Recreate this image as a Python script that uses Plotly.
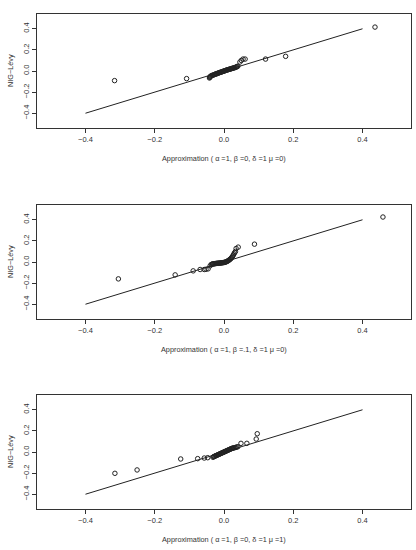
import plotly.graph_objects as go

# ---------------- data ----------------
ref_x = [-0.4, 0.4]
ref_y = [-0.4, 0.4]

p1_x = [-0.316, -0.108, -0.042, -0.041, -0.040, -0.039, -0.037, -0.035, -0.033, -0.030, -0.028,
        -0.026, -0.024, -0.022, -0.020, -0.018, -0.016, -0.014, -0.012, -0.010, -0.008, -0.006,
        -0.004, -0.002, 0.000, 0.002, 0.004, 0.006, 0.008, 0.010, 0.012, 0.014, 0.016, 0.018,
        0.020, 0.022, 0.024, 0.026, 0.028, 0.030, 0.032, 0.034, 0.036, 0.038, 0.040,
        0.046, 0.050, 0.055, 0.061, 0.120, 0.178, 0.436]
p1_y = [-0.091, -0.072, -0.066, -0.060, -0.055, -0.050, -0.046, -0.043, -0.040, -0.037, -0.034,
        -0.031, -0.029, -0.027, -0.024, -0.021, -0.019, -0.017, -0.014, -0.012, -0.010, -0.007,
        -0.005, -0.003, 0.000, 0.002, 0.004, 0.007, 0.009, 0.011, 0.013, 0.015, 0.017, 0.019,
        0.021, 0.023, 0.025, 0.027, 0.029, 0.031, 0.033, 0.036, 0.039, 0.042, 0.046,
        0.085, 0.100, 0.113, 0.113, 0.113, 0.139, 0.416]

p2_x = [-0.305, -0.141, -0.089, -0.069, -0.057, -0.052, -0.046, -0.040, -0.037,
        -0.035, -0.033, -0.031, -0.029, -0.027, -0.025, -0.023, -0.021, -0.019, -0.017, -0.015,
        -0.013, -0.011, -0.009, -0.007, -0.005, -0.003, -0.001, 0.001, 0.003, 0.005, 0.007,
        0.009, 0.011, 0.013, 0.015, 0.017, 0.019, 0.021, 0.023, 0.025, 0.027, 0.029, 0.031,
        0.033, 0.035, 0.041, 0.088, 0.459]
p2_y = [-0.160, -0.122, -0.084, -0.071, -0.071, -0.069, -0.065, -0.036, -0.024,
        -0.021, -0.019, -0.018, -0.017, -0.016, -0.015, -0.014, -0.013, -0.012, -0.012, -0.011,
        -0.010, -0.010, -0.009, -0.008, -0.007, -0.006, -0.005, -0.004, -0.002, 0.000, 0.003,
        0.006, 0.010, 0.014, 0.019, 0.024, 0.030, 0.037, 0.045, 0.055, 0.066, 0.078, 0.090,
        0.100, 0.128, 0.141, 0.169, 0.426]

p3_x = [-0.315, -0.251, -0.125, -0.076, -0.057, -0.047, -0.032,
        -0.030, -0.028, -0.026, -0.024, -0.022, -0.020, -0.018, -0.016, -0.014, -0.012, -0.010,
        -0.008, -0.006, -0.004, -0.002, 0.000, 0.002, 0.004, 0.006, 0.008, 0.010, 0.012, 0.014,
        0.016, 0.018, 0.020, 0.022, 0.024, 0.026, 0.028, 0.031, 0.034, 0.037, 0.040,
        0.049, 0.066, 0.093, 0.096]
p3_y = [-0.202, -0.170, -0.066, -0.063, -0.057, -0.054, -0.050,
        -0.045, -0.042, -0.039, -0.036, -0.033, -0.030, -0.027, -0.024, -0.021, -0.018, -0.015,
        -0.012, -0.009, -0.006, -0.003, 0.000, 0.003, 0.006, 0.009, 0.012, 0.015, 0.018, 0.021,
        0.024, 0.027, 0.030, 0.033, 0.035, 0.037, 0.039, 0.041, 0.044, 0.047, 0.050,
        0.082, 0.082, 0.123, 0.173]

x_titles = ["Approximation ( \u03b1 =1, \u03b2 =0, \u03b4 =1 \u03bc =0)",
            "Approximation ( \u03b1 =1, \u03b2 =.1, \u03b4 =1 \u03bc =0)",
            "Approximation ( \u03b1 =1, \u03b2 =0, \u03b4 =1 \u03bc =1)"]
y_title = "NIG\u2212L\u00e9vy"
tick_vals = [-0.4, -0.2, 0.0, 0.2, 0.4]
axis_range = [-0.54, 0.54]

# ---------------- layout geometry (pixels) ----------------
W, H = 416, 550
box_left, box_right = 37, 411
boxes = [(14, 128), (205, 319), (395, 509)]  # (top, bottom) in px

FONT = "Liberation Sans, Arial, sans-serif"
TXT = "#333333"
LINE = "#333333"

fig = go.Figure()
panels = [(p1_x, p1_y), (p2_x, p2_y), (p3_x, p3_y)]
annotations = []
for i, ((px, py), (top, bot)) in enumerate(zip(panels, boxes)):
    xa = "x" if i == 0 else f"x{i+1}"
    ya = "y" if i == 0 else f"y{i+1}"
    fig.add_trace(go.Scatter(x=ref_x, y=ref_y, mode="lines", xaxis=xa, yaxis=ya,
                             line=dict(color="#222222", width=1), showlegend=False,
                             hoverinfo="skip"))
    fig.add_trace(go.Scatter(x=px, y=py, mode="markers", xaxis=xa, yaxis=ya,
                             marker=dict(symbol="circle-open", size=4.5, color="#222222",
                                         line=dict(width=1, color="#222222")),
                             showlegend=False))
    xkey = "xaxis" if i == 0 else f"xaxis{i+1}"
    ykey = "yaxis" if i == 0 else f"yaxis{i+1}"
    common = dict(range=axis_range, tickvals=tick_vals, tickformat=".1f",
                  showgrid=False, zeroline=False, showline=True, mirror=True,
                  linecolor=LINE, linewidth=1, ticks="outside", ticklen=4,
                  tickwidth=1, tickcolor=LINE,
                  tickfont=dict(family=FONT, size=7.5, color=TXT))
    fig.update_layout({
        xkey: dict(domain=[box_left / W, box_right / W], anchor=ya, **common),
        ykey: dict(domain=[1 - bot / H, 1 - top / H], anchor=xa, tickangle=-90, **common),
    })
    cx = (box_left + box_right) / 2
    annotations.append(dict(text=x_titles[i], x=cx / W, y=1 - (bot + 30) / H,
                            xref="paper", yref="paper", showarrow=False,
                            xanchor="center", yanchor="middle",
                            font=dict(family=FONT, size=7.3, color=TXT)))
    annotations.append(dict(text=y_title, x=10 / W, y=1 - ((top + bot) / 2) / H,
                            xref="paper", yref="paper", showarrow=False, textangle=-90,
                            xanchor="center", yanchor="middle",
                            font=dict(family=FONT, size=7.3, color=TXT)))

fig.update_layout(width=W, height=H, margin=dict(l=0, r=0, t=0, b=0),
                  paper_bgcolor="white", plot_bgcolor="white",
                  annotations=annotations)

fig.write_html("out.html")
